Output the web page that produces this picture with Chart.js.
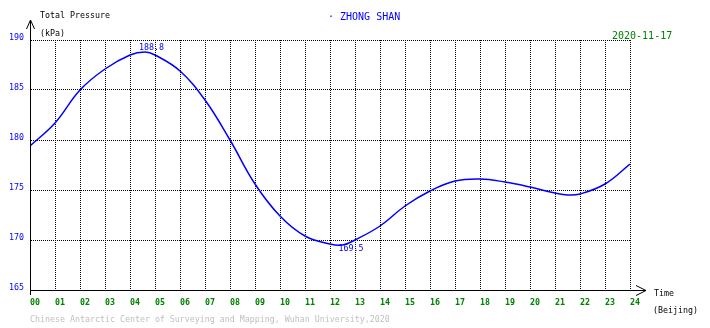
<!DOCTYPE html>
<html>
<head>
<meta charset="utf-8">
<script src="https://cdn.jsdelivr.net/npm/chart.js@4/dist/chart.umd.min.js"></script>
<style>
  html, body { margin: 0; padding: 0; background: #fff; }
  #c { display: block; }
</style>
</head>
<body>
<canvas id="c" width="710" height="328"></canvas>
<script>
// readings of the day (hour, kPa)
const hours = [0, 1, 2, 3, 4, 4.6, 5, 6, 7, 8, 9, 10, 11, 12, 12.5, 13, 14, 15, 16, 17, 18, 19, 20, 21, 21.5, 22, 23, 24];
const pressure = [179.4, 181.7, 185.0, 187.1, 188.5, 188.8, 188.5, 186.9, 184.0, 180.0, 175.6, 172.4, 170.4, 169.6, 169.5, 170.0, 171.4, 173.4, 174.9, 175.9, 176.1, 175.8, 175.3, 174.7, 174.5, 174.6, 175.6, 177.6];

const station = 'ZHONG SHAN';
const dateLabel = '2020-11-17';
const peakLabel = { x: 4.6, y: 188.8, text: '188.8' };
const lowLabel = { x: 12.5, y: 169.5, text: '169.5' };

const MONO = '"DejaVu Sans Mono", "Liberation Mono", monospace';

// axis lines with arrows, titles, extreme values, footer
const decorations = {
  id: 'decorations',
  afterDraw(chart) {
    const ctx = chart.ctx;
    const a = chart.chartArea;
    const xs = chart.scales.x, ys = chart.scales.y;
    ctx.save();
    ctx.strokeStyle = '#000';
    ctx.lineWidth = 1;
    const lx = Math.round(a.left) + 0.5;
    const by = Math.round(a.bottom) + 0.5;
    ctx.beginPath();
    // y axis
    ctx.moveTo(lx, a.bottom + 5);
    ctx.lineTo(lx, 20);
    ctx.moveTo(lx - 4, 29); ctx.lineTo(lx, 20); ctx.lineTo(lx + 4, 29);
    // x axis
    ctx.moveTo(a.left, by);
    ctx.lineTo(646, by);
    ctx.moveTo(636, by - 5); ctx.lineTo(646, by); ctx.lineTo(636, by + 5);
    ctx.stroke();

    ctx.textBaseline = 'middle';
    ctx.textAlign = 'left';
    ctx.font = '8.3px ' + MONO;
    ctx.fillStyle = '#000';
    ctx.fillText('Total Pressure', 40, 16);
    ctx.fillText('(kPa)', 40, 34);
    ctx.fillText('Time', 654, 294);
    ctx.fillText('(Beijing)', 653, 310.5);

    ctx.fillStyle = '#c0c0c0';
    ctx.fillText('Chinese Antarctic Center of Surveying and Mapping, Wuhan University,2020', 30, 320);

    ctx.fillStyle = '#0000ff';
    ctx.font = '10px ' + MONO;
    ctx.fillText('\u00b7 ' + station, 328, 17);

    ctx.fillStyle = '#008000';
    ctx.fillText(dateLabel, 612, 36.5);

    // extremes
    ctx.fillStyle = '#0000ff';
    ctx.font = '8.3px ' + MONO;
    ctx.textBaseline = 'top';
    ctx.fillText(peakLabel.text, xs.getPixelForValue(peakLabel.x) - 6, ys.getPixelForValue(peakLabel.y) - 8);
    ctx.fillText(lowLabel.text, xs.getPixelForValue(lowLabel.x) - 4, ys.getPixelForValue(lowLabel.y));
    ctx.restore();
  }
};

const ctx = document.getElementById('c').getContext('2d');
const chart = new Chart(ctx, {
  type: 'line',
  data: {
    datasets: [{
      data: hours.map((h, i) => ({ x: h, y: pressure[i] })),
      borderColor: '#0000ff',
      borderWidth: 1.5,
      pointRadius: 0,
      tension: 0.4,
      fill: false
    }]
  },
  options: {
    responsive: false,
    animation: false,
    layout: { padding: { left: 0, top: 40, right: 80, bottom: 0 } },
    plugins: { legend: { display: false }, tooltip: { enabled: false } },
    scales: {
      x: {
        type: 'linear',
        min: 0, max: 24,
        afterFit: s => { s.height = 38; },
        ticks: {
          stepSize: 1,
          align: 'start',
          padding: 8,
          color: '#008000',
          font: { family: MONO, size: 8.3, weight: 'bold' },
          callback: v => String(v).padStart(2, '0')
        },
        grid: { color: '#000', lineWidth: 1, drawTicks: false },
        border: { display: true, color: '#000', width: 1, dash: [1, 1] }
      },
      y: {
        min: 165, max: 190,
        afterFit: s => { s.width = 30; },
        ticks: {
          stepSize: 5,
          padding: 6,
          labelOffset: -2,
          color: '#0000ff',
          font: { family: MONO, size: 8.3 }
        },
        grid: { color: '#000', lineWidth: 1, drawTicks: false },
        border: { display: true, color: '#000', width: 1, dash: [1, 1] }
      }
    }
  },
  plugins: [decorations]
});
</script>
</body>
</html>
